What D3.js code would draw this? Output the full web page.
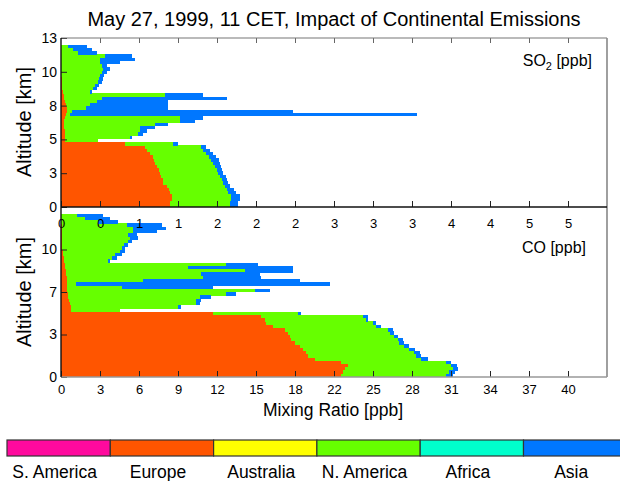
<!DOCTYPE html>
<html><head><meta charset="utf-8">
<script src="https://cdn.jsdelivr.net/npm/d3@7"></script>
<style>
body{margin:0;background:#fff}
svg{display:block}
text{font-family:"Liberation Sans",Arial,Helvetica,sans-serif;fill:#000}
</style>
</head><body>
<svg id="c" width="620" height="481"></svg>
<script>
// ---- data (altitude level = bottom of a 0.25 km layer) ----
const altitudes = [0,0.25,0.5,0.75,1,1.25,1.5,1.75,2,2.25,2.5,2.75,3,3.25,3.5,3.75,4,4.25,4.5,4.75,
  5,5.25,5.5,5.75,6,6.25,6.5,6.75,7,7.25,7.5,7.75,8,8.25,8.5,8.75,9,9.25,9.5,9.75,
  10,10.25,10.5,10.75,11,11.25,11.5,11.75,12,12.25];
const layerThickness = 0.25;

// SO2 [ppb] contributions
const so2Europe = [1.073,1.073,1.090,1.090,1.073,1.063,1.041,1.004,1.004,0.991,0.975,0.965,0.942,0.925,0.916,0.906,0.876,0.844,0.827,0.630,
  0.039,0.039,0.039,0.039,0.030,0.030,0.030,0.039,0.049,0.059,0.059,0.049,0.039,0.030,0.030,0.020,0.010,0.010,0.005,0.005,
  0,0,0,0,0,0,0,0,0,0];
const so2NAmerica = [0.591,0.591,0.591,0.591,0.571,0.571,0.574,0.591,0.581,0.574,0.571,0.571,0.574,0.571,0.561,0.551,0.558,0.554,0.558,0.473,
  0.325,0.640,0.719,0.738,0.748,0.896,1.142,1.132,0.039,0.049,0.187,0.236,0.315,0.374,0.994,0.266,0.305,0.325,0.359,0.369,
  0.384,0.404,0.413,0.404,0.384,0.384,0.433,0.167,0.118,0.069];
const so2Asia = [0.079,0.079,0.082,0.082,0.086,0.069,0.049,0.049,0.054,0.066,0.049,0.054,0.066,0.069,0.079,0.069,0.062,0.069,0.049,0.049,
  0,0.020,0.049,0.069,0.148,0.128,0.148,0.226,3.426,2.176,0.807,0.768,0.699,1.231,0.374,0.020,0.039,0.039,0.039,0.039,
  0.039,0.049,0.069,0.049,0.197,0.345,0.266,0.187,0.187,0.187];

// CO [ppb] contributions
const coEurope = [22.11,22.21,22.37,22.62,22.11,20.00,19.48,19.29,19.06,18.82,18.43,18.17,18.03,17.88,17.64,16.70,16.20,16.07,15.81,11.99,
  0.79,0.79,0.71,0.63,0.55,0.55,0.47,0.47,0.47,0.47,0.47,0.39,0.39,0.31,0.31,0.24,0.24,0.16,0.16,0.08,
  0.08,0.08,0.08,0.08,0.08,0.08,0.04,0,0,0];
const coNAmerica = [8.27,8.43,8.53,8.14,8.27,8.40,8.54,8.58,8.43,8.27,8.27,8.39,8.27,8.11,8.13,8.17,8.39,8.01,8.00,6.69,
  3.86,8.45,9.98,10.06,10.40,12.50,14.81,4.31,0.71,6.01,10.71,10.69,14.10,9.71,12.73,3.49,3.78,4.10,4.49,4.70,
  4.88,5.20,5.36,5.20,5.59,5.59,5.13,2.91,1.89,1.24];
const coAsia = [0.52,0.47,0.39,0.52,0.39,0.52,0.39,0.47,0.47,0.39,0.39,0.39,0.31,0.31,0.39,0.39,0.27,0.13,0.39,0.27,
  0,0.21,0.26,0.39,0.92,0.79,1.18,7.21,20.06,12.34,4.62,4.59,3.78,8.25,2.49,0.13,0.39,0.55,0.39,0.26,
  0.31,0.31,0.63,0.71,1.87,2.65,2.76,1.58,1.97,2.09];

// axes tick labels
const so2TickLabels = ["0","0","1","1","2","2","2","3","3","3","4","4","5","5"];
const coTickLabels = ["0","3","6","9","12","15","18","22","25","28","31","34","37","40"];
const so2TickStep = 5/13, coTickStep = 40/13;
const topAltTickLabels = ["0","3","5","8","10","13"];
const botAltTickLabels = ["0","3","7","10"];

// legend
const regions = ["S. America","Europe","Australia","N. America","Africa","Asia"];
const regionColors = ["#ff0a9e","#ff5500","#ffff00","#66ff00","#00ffcc","#0077ff"];

// ---- drawing ----
const svg = d3.select("#c");
const L = 61, R = 607;
const t1 = 38, b1 = 207, t2 = 207, b2 = 377;
const color = d3.scaleOrdinal().domain(regions).range(regionColors);

const xSO2 = d3.scaleLinear().domain([0, 14*so2TickStep]).range([L, R]);
const xCO  = d3.scaleLinear().domain([0, 14*coTickStep]).range([L, R]);
const yTop = d3.scaleLinear().domain([0, 13]).range([b1, t1]);
const yBot = d3.scaleLinear().domain([0, 13]).range([b2, t2]);

const keys = ["Europe","N. America","Asia"];
function rows(eu, na, as){ return altitudes.map((a,i)=>({alt:a, "Europe":eu[i], "N. America":na[i], "Asia":as[i]})); }
const stack = d3.stack().keys(keys);

function drawPanel(data, x, y){
  const g = svg.append("g");
  stack(data).forEach(series=>{
    g.selectAll(null).data(series.filter(d=>d[1]-d[0]>0)).join("rect")
      .attr("x", d=>x(d[0]))
      .attr("width", d=>x(d[1])-x(d[0]))
      .attr("y", d=>y(d.data.alt+layerThickness))
      .attr("height", d=>y(d.data.alt)-y(d.data.alt+layerThickness)+0.3)
      .attr("fill", color(series.key))
      .attr("shape-rendering","crispEdges");
  });
}
drawPanel(rows(so2Europe, so2NAmerica, so2Asia), xSO2, yTop);
drawPanel(rows(coEurope, coNAmerica, coAsia), xCO, yBot);

// axes
const so2Ticks = so2TickLabels.map((_,i)=>i*so2TickStep);
const coTicks = coTickLabels.map((_,i)=>i*coTickStep);

function styleAxis(g, fs){
  g.select(".domain").remove();
  g.selectAll("text").style("font-size", fs+"px").attr("font-family",'"Liberation Sans",Arial,sans-serif');
  g.selectAll("line").attr("stroke","#222");
}
// top panel: top ticks (no labels)
svg.append("g").attr("transform",`translate(0,${t1})`)
  .call(d3.axisTop(xSO2).tickValues(so2Ticks.slice(1)).tickSize(-5).tickFormat(""))
  .call(g=>{g.select(".domain").remove(); g.selectAll("line").attr("stroke","#666");});
// top panel: bottom axis with labels
svg.append("g").attr("transform",`translate(0,${b1})`)
  .call(d3.axisBottom(xSO2).tickValues(so2Ticks).tickSize(-6).tickPadding(12).tickFormat((d,i)=>so2TickLabels[i]))
  .call(g=>styleAxis(g,13));
// bottom panel bottom axis
svg.append("g").attr("transform",`translate(0,${b2})`)
  .call(d3.axisBottom(xCO).tickValues(coTicks).tickSize(-6).tickPadding(8).tickFormat((d,i)=>coTickLabels[i]))
  .call(g=>styleAxis(g,13));
// left axes
svg.append("g").attr("transform",`translate(${L},0)`)
  .call(d3.axisLeft(yTop).tickValues(topAltTickLabels.map((_,i)=>i*2.6)).tickSize(-6).tickPadding(4).tickFormat((d,i)=>topAltTickLabels[i]))
  .call(g=>styleAxis(g,14));
svg.append("g").attr("transform",`translate(${L},0)`)
  .call(d3.axisLeft(yBot).tickValues(botAltTickLabels.map((_,i)=>i*3.25)).tickSize(-6).tickPadding(4).tickFormat((d,i)=>botAltTickLabels[i]))
  .call(g=>styleAxis(g,14));

// frame lines
const line = (x1,y1,x2,y2,c,w)=>svg.append("line").attr("x1",x1).attr("y1",y1).attr("x2",x2).attr("y2",y2).attr("stroke",c).attr("stroke-width",w);
line(L,t1,R,t1,"#777",1.2);
line(R,t1,R,b2,"#888",1.6);
line(L,b2,R,b2,"#999",1.6);
line(L,b1,R,b1,"#111",1.4);
line(L,t1,L,b2,"#111",1.4);

// texts
svg.append("text").attr("x",334).attr("y",26).attr("text-anchor","middle").style("font-size","20px")
  .text("May 27, 1999, 11 CET, Impact of Continental Emissions");
svg.append("text").attr("transform","translate(31,122) rotate(-90)").attr("text-anchor","middle").style("font-size","20px").text("Altitude [km]");
svg.append("text").attr("transform","translate(31,292) rotate(-90)").attr("text-anchor","middle").style("font-size","20px").text("Altitude [km]");
svg.append("text").attr("x",333).attr("y",416).attr("text-anchor","middle").style("font-size","17.5px").text("Mixing Ratio [ppb]");

const so2t = svg.append("text").attr("x",592).attr("y",66).attr("text-anchor","end").style("font-size","16px");
so2t.append("tspan").text("SO");
so2t.append("tspan").attr("dy",4).style("font-size","11px").text("2");
so2t.append("tspan").attr("dy",-4).text(" [ppb]");
svg.append("text").attr("x",586).attr("y",253).attr("text-anchor","end").style("font-size","16px").text("CO [ppb]");

// legend
const lx = d3.scaleBand().domain(regions).range([7, 7+6*103.3]);
const lg = svg.append("g");
lg.selectAll("rect").data(regions).join("rect")
  .attr("x", d=>lx(d)).attr("y",440).attr("width",lx.bandwidth()).attr("height",16)
  .attr("fill", d=>color(d)).attr("stroke","#333").attr("stroke-width",1.2);
lg.selectAll("text").data(regions).join("text")
  .attr("x", d=>lx(d)+lx.bandwidth()/2-4).attr("y",478).attr("text-anchor","middle").style("font-size","17.5px").text(d=>d);
</script>
</body></html>
